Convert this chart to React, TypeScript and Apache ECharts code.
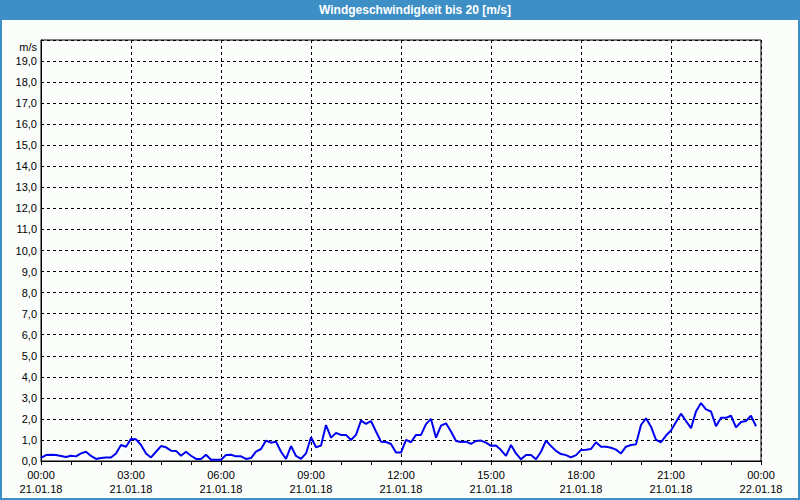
import React, { useEffect, useRef } from "react";
import * as echarts from "echarts";

// Wind speed [m/s], 10-minute steps, one array per 3-hour block (21.01.18)
const block0000 = [0.15, 0.28, 0.3, 0.28, 0.24, 0.19, 0.25, 0.22, 0.36, 0.44, 0.24, 0.1, 0.14, 0.17, 0.17, 0.36, 0.76, 0.68];
const block0300 = [1.05, 1.03, 0.76, 0.36, 0.17, 0.44, 0.71, 0.65, 0.49, 0.48, 0.25, 0.44, 0.25, 0.1, 0.1, 0.3, 0.06, 0.06];
const block0600 = [0.06, 0.28, 0.3, 0.22, 0.22, 0.1, 0.14, 0.44, 0.57, 0.97, 0.87, 0.92, 0.44, 0.1, 0.71, 0.24, 0.1, 0.36];
const block0900 = [1.13, 0.65, 0.73, 1.71, 1.11, 1.33, 1.24, 1.24, 1.0, 1.24, 1.92, 1.76, 1.9, 1.4, 0.92, 0.9, 0.81, 0.4];
const block1200 = [0.4, 1.0, 0.89, 1.24, 1.24, 1.75, 2.0, 1.11, 1.68, 1.79, 1.4, 0.95, 0.9, 0.92, 0.81, 0.95, 0.97, 0.87];
const block1500 = [0.72, 0.74, 0.52, 0.24, 0.76, 0.36, 0.08, 0.28, 0.28, 0.08, 0.44, 0.97, 0.71, 0.48, 0.33, 0.28, 0.17, 0.28];
const block1800 = [0.52, 0.54, 0.57, 0.89, 0.68, 0.68, 0.63, 0.54, 0.36, 0.68, 0.76, 0.79, 1.71, 2.03, 1.63, 1.0, 0.89, 1.21];
const block2100 = [1.45, 1.85, 2.25, 1.9, 1.56, 2.35, 2.75, 2.45, 2.35, 1.65, 2.05, 2.05, 2.15, 1.6, 1.85, 1.9, 2.15, 1.65];

const STEP_MIN = 10;
const TITLE = "Windgeschwindigkeit bis 20 [m/s]";
const UNIT = "m/s";
const DAY1 = "21.01.18";
const DAY2 = "22.01.18";

const speeds = [
  ...block0000, ...block0300, ...block0600, ...block0900,
  ...block1200, ...block1500, ...block1800, ...block2100,
];

export default function App() {
  const ref = useRef<HTMLDivElement>(null);
  useEffect(() => {
    if (!ref.current) return;
    const chart = echarts.init(ref.current, null, { renderer: "svg" });
    const font = "'Liberation Sans', Arial, sans-serif";
    const data = speeds.map((v, i) => [i * STEP_MIN, v]);
    chart.setOption({
      animation: false,
      backgroundColor: "#fbfdfb",
      textStyle: { fontFamily: font },
      graphic: [
        { type: "rect", shape: { x: 0, y: 0, width: 800, height: 20 }, style: { fill: "#3d8fc6" }, z: 10 },
        { type: "rect", shape: { x: 0, y: 0, width: 2, height: 500 }, style: { fill: "#3d8fc6" }, z: 10 },
        { type: "rect", shape: { x: 798, y: 0, width: 2, height: 500 }, style: { fill: "#3d8fc6" }, z: 10 },
        { type: "rect", shape: { x: 0, y: 498, width: 800, height: 2 }, style: { fill: "#3d8fc6" }, z: 10 },
        {
          type: "text", x: 415, y: 10, z: 11,
          style: { text: TITLE, fill: "#ffffff", font: `bold 12px ${font}`, align: "center", verticalAlign: "middle" },
        },
        {
          type: "text", x: 37, y: 47, z: 11,
          style: { text: UNIT, fill: "#000000", font: `11px ${font}`, align: "right", verticalAlign: "middle" },
        },
      ],
      grid: {
        left: 41, top: 40, width: 720, height: 421,
        show: true, borderColor: "#000", borderWidth: 1, backgroundColor: "transparent",
      },
      xAxis: {
        type: "value", min: 0, max: 1440, interval: 180,
        axisLine: { show: true, lineStyle: { color: "#000", width: 1 } },
        axisTick: { show: true, length: 4, lineStyle: { color: "#000" } },
        minorTick: { show: true, splitNumber: 3, length: 4, lineStyle: { color: "#000" } },
        splitLine: { show: true, lineStyle: { color: "#000", type: [3, 3], width: 1 } },
        axisLabel: {
          color: "#000", fontSize: 11, lineHeight: 14, margin: 7, fontFamily: font,
          formatter: (v: number) => {
            const h = Math.round(v / 60) % 24;
            const hh = (h < 10 ? "0" : "") + h;
            return `${hh}:00\n${v >= 1440 ? DAY2 : DAY1}`;
          },
        },
      },
      yAxis: {
        type: "value", min: 0, max: 20, interval: 1,
        axisLine: { show: true, lineStyle: { color: "#000", width: 1 } },
        axisTick: { show: false },
        splitLine: { show: true, lineStyle: { color: "#000", type: [3, 3], width: 1 } },
        axisLabel: {
          color: "#000", fontSize: 11, margin: 4, fontFamily: font,
          formatter: (v: number) => (v >= 20 ? "" : v.toFixed(1).replace(".", ",")),
        },
      },
      series: [
        {
          type: "line", data, showSymbol: false, symbol: "none",
          lineStyle: { color: "#0000f0", width: 2 }, z: 5,
        },
      ],
    });
    return () => chart.dispose();
  }, []);
  return (
    <div
      ref={ref}
      style={{ position: "absolute", left: 0, top: 0, width: 800, height: 500 }}
    />
  );
}
